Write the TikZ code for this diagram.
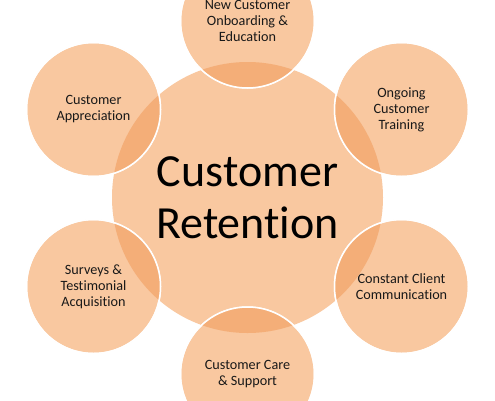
\documentclass[tikz,border=0pt]{standalone}
\usepackage{fontspec}
\setmainfont{Carlito}[Ligatures=NoCommon]
\definecolor{peach}{HTML}{F9C8A0}
\definecolor{peachdark}{HTML}{F4AE78}

\tikzset{
  hub/.style={circle, fill=peach, minimum size=271pt, inner sep=0pt,
    align=center, font=\fontsize{46}{52}\selectfont},
  satellite/.style={circle, fill=peach, draw=white, line width=1.5pt,
    minimum size=134pt, inner sep=0pt, align=center,
    font=\fontsize{14.2}{16}\selectfont, text=black!90}
}

\begin{document}
\begin{tikzpicture}[x=1pt,y=-1pt]
  \useasboundingbox (0,0) rectangle (495,400);
  \fill[white] (0,0) rectangle (495,400);

  \node[hub] (ret) at (247.5,197.5) {Customer\\Retention};

  \foreach \nm/\px/\py/\txt in {
      onb/247.5/21/{New Customer\\Onboarding \&\\Education},
      trn/401.5/109.5/{Ongoing\\Customer\\Training},
      com/401.5/286.5/{Constant Client\\Communication},
      care/247.5/374/{Customer Care\\\& Support},
      surv/93.5/286.5/{Surveys \&\\Testimonial\\Acquisition},
      appr/93.5/109.5/{Customer\\Appreciation}}
    \node[satellite] (\nm) at (\px,\py) {\txt};

  % darker overlaps
  \begin{scope}
    \clip (ret.center) circle (135.5pt);
    \foreach \nm in {onb,trn,com,care,surv,appr}
      \fill[peachdark] (\nm.center) circle (67pt);
  \end{scope}
  \foreach \nm in {onb,trn,com,care,surv,appr}
    \draw[white, line width=1.5pt] (\nm.center) circle (67pt);
\end{tikzpicture}
\end{document}
